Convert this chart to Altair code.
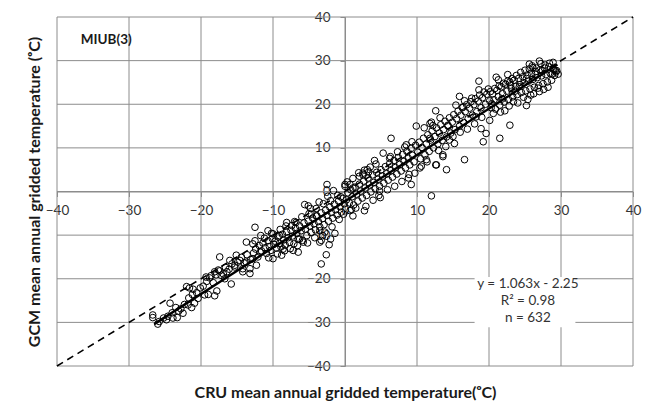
import altair as alt
import pandas as pd

# ---- tick values / annotation text ----
tick_values = [-40, -30, -20, -10, 0, 10, 20, 30, 40]
x_title = "CRU mean annual gridded temperature(\u1d52C)"
y_title = "GCM  mean annual gridded temperature (\u1d52C)"
eq_lines = ["y = 1.063x - 2.25", "R\u00b2 = 0.98", "n = 632"]
panel_label = "MIUB(3)"

# ---- scatter points (CRU, GCM), by region ----
cold = [(-26.7,-28.3),(-26.7,-28.9),(-26.0,-30.4),(-24.8,-29.4),(-24.3,-25.6),(-23.9,-29.0),
        (-23.3,-28.9),(-23.1,-27.4),(-22.5,-27.9),(-22.0,-21.8),(-21.6,-22.1),(-21.1,-22.4),
        (-21.8,-26.0),(-21.3,-26.6),(-20.9,-25.6),(-20.4,-24.5),(-19.5,-23.7),(-19.0,-23.6),
        (-19.3,-19.6),(-18.6,-19.3),(-18.1,-23.9),(-17.8,-22.8),(-18.1,-18.4),(-17.6,-18.0),
        (-17.4,-15.0),(-17.2,-19.2),(-16.7,-20.0),(-16.4,-18.4),(-15.8,-21.2),(-16.0,-15.8),
        (-15.3,-16.9),(-14.6,-15.8),(-15.1,-14.6),(-14.2,-17.7),(-13.2,-18.8),(-13.7,-16.2),
        (-12.8,-15.4),(-12.3,-16.9),
        (-25.8,-29.8),(-25.2,-29.0),(-24.6,-28.6),(-24.0,-27.8),(-23.5,-26.6),(-22.8,-26.9),
        (-22.3,-25.9),(-21.7,-24.4),(-21.2,-23.6),(-20.6,-23.2),(-20.1,-22.1),(-19.7,-21.7),
        (-19.2,-20.6),(-18.8,-19.8),(-18.3,-20.9),(-17.9,-19.1),(-17.4,-18.2),(-16.9,-18.9),
        (-16.6,-17.4),(-16.1,-17.8),(-15.7,-16.6),(-15.3,-17.3),(-14.9,-16.2),(-14.4,-15.1),
        (-14.0,-16.4),(-13.6,-14.5),(-13.1,-15.6),(-12.7,-14.1),(-12.4,-13.2),(-12.1,-15.0)]

cool = [(-12.5,-8.2),(-13.7,-11.6),(-12.8,-12.0),(-10.7,-9.0),(-10.0,-9.7),(-8.1,-7.1),
        (-7.4,-7.8),(-5.1,-3.3),(-5.8,-11.6),(-6.5,-13.9),(-7.2,-13.5),(-8.8,-14.6),
        (-10.0,-15.4),(-3.5,-11.6),(-3.3,-11.2),(-2.6,-14.5),(-3.3,-16.6),(-2.5,1.6),
        (-4.7,-5.2),(-4.0,-5.6),(-3.5,-9.0),(-3.1,-10.1),(-6.3,-10.9),(-6.8,-7.1),
        (-9.1,-10.1),(-8.6,-13.2),(-11.8,-13.9),(-13.2,-17.7),(-14.2,-18.4),
        (-11.9,-12.4),(-11.6,-13.6),(-11.4,-11.8),(-11.1,-12.9),(-10.9,-14.2),(-10.7,-11.3),
        (-10.5,-12.6),(-10.3,-13.5),(-10.1,-10.8),(-9.9,-12.1),(-9.7,-11.4),(-9.5,-13.0),
        (-9.3,-10.4),(-9.1,-11.9),(-8.9,-12.7),(-8.7,-9.8),(-8.5,-11.1),(-8.3,-12.3),
        (-8.1,-9.3),(-7.9,-10.6),(-7.7,-11.7),(-7.5,-8.9),(-7.3,-10.2),(-7.1,-12.0),
        (-6.9,-8.4),(-6.7,-9.6),(-6.5,-10.9),(-6.3,-7.9),(-6.1,-9.0),(-5.9,-11.2),
        (-5.7,-7.2),(-5.5,-8.6),(-5.3,-10.1),(-5.1,-6.8),(-4.9,-7.9),(-4.7,-9.4),
        (-4.5,-6.1),(-4.3,-7.4),(-4.1,-8.8),(-3.9,-5.6),(-3.7,-6.9),(-3.5,-8.1),
        (-3.3,-4.9),(-3.1,-6.2),(-2.9,-7.6),(-2.7,-4.3),(-2.5,-5.5),(-2.3,-6.8),
        (-2.1,-3.6),(-1.9,-4.8),(-1.7,-6.1),(-1.5,-2.9),(-1.3,-4.2),(-1.1,-5.4),
        (-0.9,-2.2),(-0.7,-3.5),(-0.5,-4.7),(-0.3,-1.6),(-0.1,-2.8),(-11.2,-10.7),
        (-10.2,-9.6),(-9.0,-8.7),(-8.2,-7.9),(-7.0,-6.9),(-6.0,-5.8),(-5.0,-5.1),
        (-4.0,-3.9),(-3.0,-2.8),(-2.0,-2.1),(-1.0,-0.9),(-0.6,-1.2),(-1.6,0.2),
        (-2.4,-1.1),(-3.6,-2.4),(-4.8,-3.9),(-5.6,-3.0),(-12.5,-11.3),(-11.7,-10.1),
        (-10.6,-15.2),(-9.4,-14.3),(-8.4,-13.6),(-7.6,-13.1),(-6.6,-12.4),(-5.2,-11.8),
        (-4.2,-10.6),(-2.8,-9.3),(-1.8,-8.1),(-0.8,-6.4),(-0.2,-5.2),(-2.2,-12.2),
        (-2.0,-10.9),(-1.4,-9.6)]

mild = [(0.0,1.2),(0.7,1.6),(1.1,0.8),(0.0,1.6),(2.7,-4.4),(4.7,-0.9),(4.1,7.1),(5.3,8.8),
        (6.4,12.2),(6.2,7.6),(8.5,10.7),(9.2,1.6),(8.8,3.1),(2.5,4.2),(2.0,3.5),(4.8,0.1),
        (0.7,-4.4),(1.1,-5.6),
        (0.2,-1.9),(0.4,-0.3),(0.6,-2.6),(0.8,0.4),(1.0,-1.2),(1.2,-3.1),(1.4,1.0),(1.6,-0.6),
        (1.8,-2.2),(2.0,1.7),(2.2,0.1),(2.4,-1.5),(2.6,2.4),(2.8,0.8),(3.0,-0.9),(3.2,3.1),
        (3.4,1.5),(3.6,-0.1),(3.8,3.8),(4.0,2.1),(4.2,0.6),(4.4,4.4),(4.6,2.8),(4.8,1.2),
        (5.0,5.0),(5.2,3.5),(5.4,1.9),(5.6,5.7),(5.8,4.1),(6.0,2.6),(6.2,6.4),(6.4,4.8),
        (6.6,3.3),(6.8,7.1),(7.0,5.5),(7.2,4.0),(7.4,7.8),(7.6,6.2),(7.8,4.7),(8.0,8.5),
        (8.2,6.9),(8.4,5.4),(8.6,9.2),(8.8,7.6),(9.0,6.1),(9.2,9.9),(9.4,8.3),(9.6,6.8),
        (9.8,10.6),(0.3,2.2),(1.1,3.0),(1.9,4.3),(2.7,4.9),(3.5,5.6),(4.3,6.3),(2.9,-3.4),
        (3.9,-2.0),(4.9,-1.4),(5.9,0.4),(6.9,1.2),(7.9,2.3),(8.9,3.9),(9.7,4.2),(3.3,4.5),
        (3.1,5.0),(2.5,3.8),(6.3,8.0),(7.3,9.1),(8.3,10.2),(9.3,11.4),(0.9,-4.1),(1.5,-3.8)]

warm = [(9.9,15.0),(10.6,5.8),(12.0,-1.0),(12.7,6.1),(11.8,15.6),(13.6,8.0),(14.1,5.0),
        (11.8,12.2),(11.3,7.3),(12.6,18.5),(12.6,6.1),(13.6,8.4),(15.9,21.8),(18.6,25.3),
        (18.6,23.3),(17.6,21.4),(16.4,19.4),(19.2,11.4),(19.6,13.3),(18.9,14.4),(18.2,17.1),
        (16.6,7.3),(15.2,11.0),(14.5,11.8),(14.3,15.2),
        (10.1,9.0),(10.3,11.3),(10.5,7.5),(10.7,10.1),(10.9,12.2),(11.1,8.4),(11.3,10.9),
        (11.5,13.0),(11.7,9.2),(11.9,11.8),(12.1,13.9),(12.3,10.0),(12.5,12.6),(12.7,14.6),
        (12.9,10.9),(13.1,13.4),(13.3,15.3),(13.5,11.7),(13.7,14.2),(13.9,16.1),(14.1,12.5),
        (14.3,15.0),(14.5,16.9),(14.7,13.4),(14.9,15.9),(15.1,17.6),(15.3,14.2),(15.5,16.7),
        (15.7,18.4),(15.9,15.0),(16.1,17.5),(16.3,19.2),(16.5,15.8),(16.7,18.3),(16.9,19.9),
        (17.1,16.7),(17.3,19.1),(17.5,20.6),(17.7,17.5),(17.9,19.9),(18.1,21.3),(18.3,18.3),
        (18.5,20.7),(18.7,22.1),(18.9,19.2),(19.1,21.5),(19.3,22.8),(19.5,20.0),(19.7,22.3),
        (19.9,23.5),(11.0,14.6),(12.0,15.9),(13.0,9.4),(14.0,10.3),(15.0,12.6),(16.0,13.6),
        (17.0,14.3),(18.0,15.5),(19.0,17.0),(10.4,5.4),(11.4,6.8),(12.2,15.1),(13.2,16.9),
        (15.4,19.8),(16.6,20.8)]

hot = [(22.9,15.2),(21.5,12.2),(21.0,26.2),(21.3,25.6),(22.6,26.8),(20.1,16.3),(25.2,19.7),
       (27.0,29.9),(28.9,29.6),(29.4,27.7),(29.6,26.9),(25.6,29.2),(26.1,28.4),
       (20.1,20.8),(20.3,19.2),(20.5,22.4),(20.7,21.0),(20.9,18.9),(21.1,23.2),(21.3,21.7),
       (21.5,19.8),(21.7,24.0),(21.9,22.4),(22.1,20.5),(22.3,24.6),(22.5,23.0),(22.7,21.1),
       (22.9,25.1),(23.1,23.6),(23.3,21.7),(23.5,25.5),(23.7,24.1),(23.9,22.2),(24.1,25.9),
       (24.3,24.5),(24.5,22.7),(24.7,26.3),(24.9,24.9),(25.1,23.1),(25.3,26.7),(25.5,25.3),
       (25.7,23.5),(25.9,27.1),(26.1,25.7),(26.3,23.9),(26.5,27.5),(26.7,26.1),(26.9,24.3),
       (27.1,27.9),(27.3,26.5),(27.5,24.7),(27.7,28.3),(27.9,26.8),(28.1,25.1),(28.3,28.6),
       (28.5,27.1),(28.7,25.5),(28.9,28.1),(29.1,26.6),(29.3,27.4),(29.0,27.9),(26.0,28.8),
       (26.6,28.3),(27.2,29.3),(27.8,29.0),(28.4,29.4),(25.6,28.1),(25.0,27.8),(24.4,27.3),
       (23.8,26.6),(23.2,25.9),(22.6,25.3),(22.0,24.8),(21.4,24.2),(20.8,23.6),(20.2,22.9),
       (24.0,20.3),(25.4,21.1),(26.2,22.4),(27.0,22.9),(27.6,23.4),(28.2,23.9),(23.4,20.6),
       (22.8,19.6),(22.2,18.5),(21.6,18.2),(20.6,17.9),(26.8,23.7),(25.8,22.1),(24.8,21.6),
       (23.6,23.0),(28.8,27.0),(29.2,27.8),(27.4,27.7),(26.4,26.9),(25.2,25.9),(24.2,24.0),
       (23.0,24.4),(21.8,21.2),(20.4,20.1)]

# ---- lines ----
one_to_one_x = [-40, 40]
one_to_one_y = [-40, 40]
fit_x = [-26.5, 29.5]
fit_y = [-30.4, 29.1]

# ---- build tables ----
all_pts = cold + cool + mild + warm + hot
pts = pd.DataFrame({"cru": [p[0] for p in all_pts], "gcm": [p[1] for p in all_pts]})
grid = pd.DataFrame({"cru": tick_values, "gcm": tick_values})
diag = pd.DataFrame({"cru": one_to_one_x, "gcm": one_to_one_y})
fit = pd.DataFrame({"cru": fit_x, "gcm": fit_y})
box = pd.DataFrame({"cru": [18.0], "x2": [32.0], "gcm": [-19.6], "y2": [-31.1]})
eq = pd.DataFrame({"cru": [25.4, 25.4, 25.4], "gcm": [-21.1, -25.0, -29.0], "t": eq_lines})
lab = pd.DataFrame({"cru": [-36.7], "gcm": [34.8], "t": [panel_label]})

W, H = 576, 349
GRID = "#8c8c8c"
FONT = "Lato"

xs = alt.Scale(domain=[-40, 40], nice=False, zero=False)
ys = alt.Scale(domain=[-40, 40], nice=False, zero=False)

x_axis = alt.Axis(values=tick_values, grid=False, domain=True, domainColor=GRID, domainWidth=1,
                  ticks=True, tickColor=GRID, tickSize=5, labelFlush=False, labelOverlap=False,
                  labelFont=FONT, labelFontSize=13.5, labelColor="#333333", labelPadding=7,
                  offset=-H / 2, title=x_title, titleFont=FONT, titleFontSize=16,
                  titleFontWeight="bold", titleColor="#1a1a1a", titleX=W / 2, titleY=201,
                  titleBaseline="middle", titleAlign="center")
y_axis = alt.Axis(values=tick_values, grid=False, domain=True, domainColor=GRID, domainWidth=1,
                  ticks=True, tickColor=GRID, tickSize=5, labelFlush=False, labelOverlap=False,
                  labelFont=FONT, labelFontSize=13.5, labelColor="#333333", labelPadding=10,
                  offset=-W / 2, title=y_title, titleFont=FONT, titleFontSize=16,
                  titleFontWeight="bold", titleColor="#1a1a1a", titleX=-311, titleY=H / 2,
                  titleAngle=270, titleBaseline="middle", titleAlign="center")

X = alt.X("cru:Q", scale=xs, axis=x_axis)
Y = alt.Y("gcm:Q", scale=ys, axis=y_axis)

vgrid = alt.Chart(grid).mark_rule(color=GRID, strokeWidth=1).encode(x=X)
hgrid = alt.Chart(grid).mark_rule(color=GRID, strokeWidth=1).encode(y=Y)

points = alt.Chart(pts).mark_point(shape="circle", filled=False, color="black", size=44,
                                   strokeWidth=1, opacity=1).encode(x=X, y=Y)

diag_line = alt.Chart(diag).mark_line(color="black", strokeWidth=1.6, strokeDash=[7, 5]).encode(x=X, y=Y)
fit_line = alt.Chart(fit).mark_line(color="black", strokeWidth=2.4).encode(x=X, y=Y)

box_mark = alt.Chart(box).mark_rect(fill="white").encode(x=X, x2="x2:Q", y=Y, y2="y2:Q")
eq_text = alt.Chart(eq).mark_text(font=FONT, fontSize=13.5, color="#333333", align="center",
                                  baseline="middle").encode(x=X, y=Y, text="t:N")
lab_text = alt.Chart(lab).mark_text(font=FONT, fontSize=13.5, fontWeight="bold", color="#1a1a1a",
                                    align="left", baseline="middle").encode(x=X, y=Y, text="t:N")

chart = alt.layer(vgrid, hgrid, box_mark, points, fit_line, diag_line, eq_text, lab_text).properties(
    width=W, height=H,
    autosize=alt.AutoSizeParams(type="none"),
    padding={"left": 49, "top": 9, "right": 10, "bottom": 38},
    background="white",
).configure_view(stroke=None)

chart.save("out.html", embed_options={"renderer": "svg", "actions": False})
